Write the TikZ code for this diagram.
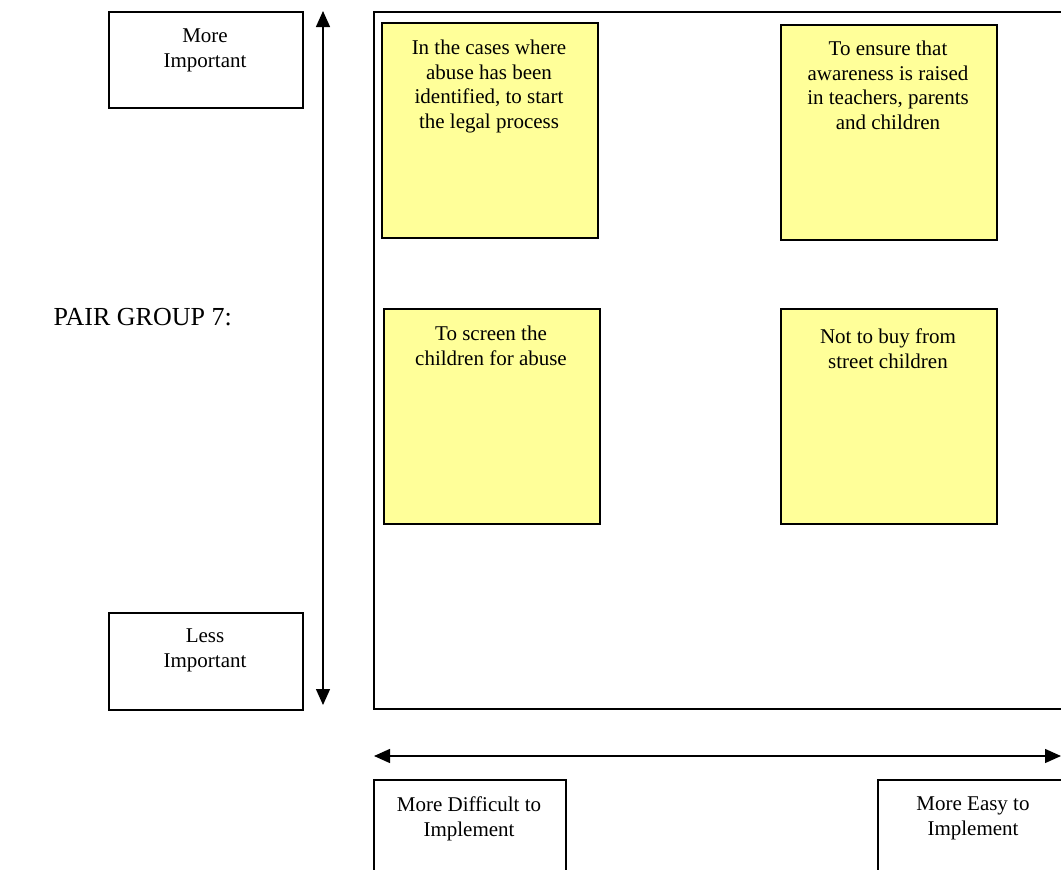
\documentclass[tikz,border=0pt]{standalone}
\usepackage{fontspec}
\setmainfont{Liberation Serif}
\usetikzlibrary{arrows.meta}

\definecolor{notefill}{HTML}{FFFF99}

\tikzset{
  frame/.style={draw=black, line width=1.7pt, fill=white, inner sep=0pt},
  note/.style={draw=black, line width=1.7pt, fill=notefill, inner sep=0pt},
  txt/.style={anchor=north, inner sep=0pt, align=center,
    font=\fontsize{21}{24.6}\selectfont},
  axis2/.style={line width=1.4pt, {Triangle[length=16pt,width=14pt]}-{Triangle[length=16pt,width=14pt]}},
}

\begin{document}
\begin{tikzpicture}[x=1pt, y=-1pt]
  \useasboundingbox (0,0) rectangle (1061,870);
  \clip (0,0) rectangle (1061,870);

  % importance labels
  \node[frame, anchor=north west, minimum width=194pt, minimum height=96pt] (more) at (108,11) {};
  \node[txt] at (205,29) {More\\Important};
  \node[frame, anchor=north west, minimum width=194pt, minimum height=97pt] (less) at (108,612) {};
  \node[txt] at (205,629) {Less\\Important};

  % vertical importance axis
  \coordinate (vtop) at (323,11);
  \coordinate (vbot) at (323,705);
  \draw[axis2] (vtop) -- (vbot);

  % group title
  \node[anchor=base east, inner sep=0pt, font=\fontsize{26}{30}\selectfont] (title) at (232,325) {PAIR GROUP 7:};

  % main grid frame
  \node[frame, anchor=north west, minimum width=710pt, minimum height=697pt] (grid) at (373,11) {};

  % sticky notes with their drop shadows
  \foreach \x/\y/\n in {381/22/n1, 780/24/n2, 383/308/n3, 780/308/n4}{
    \fill[black!30] (\x+2,\y+2) rectangle (\x+218,\y+217);
    \node[note, anchor=north west, minimum width=216pt, minimum height=215pt] (\n) at (\x,\y) {};
  }
  \node[txt] at (489,40) {In the cases where\\abuse has been\\identified, to start\\the legal process};
  \node[txt] at (888,41) {To ensure that\\awareness is raised\\in teachers, parents\\and children};
  \node[txt] at (491,326) {To screen the\\children for abuse};
  \node[txt] at (888,329) {Not to buy from\\street children};

  % horizontal ease axis
  \coordinate (hleft) at (374,756);
  \coordinate (hright) at (1061,756);
  \draw[axis2] (hleft) -- (hright);

  % ease labels
  \node[frame, anchor=north west, minimum width=192pt, minimum height=110pt] (hard) at (373,779) {};
  \node[txt] at (469,797) {More Difficult to\\Implement};
  \node[frame, anchor=north west, minimum width=192pt, minimum height=110pt] (easy) at (877,779) {};
  \node[txt] at (973,797) {More Easy to\\Implement};
\end{tikzpicture}
\end{document}
